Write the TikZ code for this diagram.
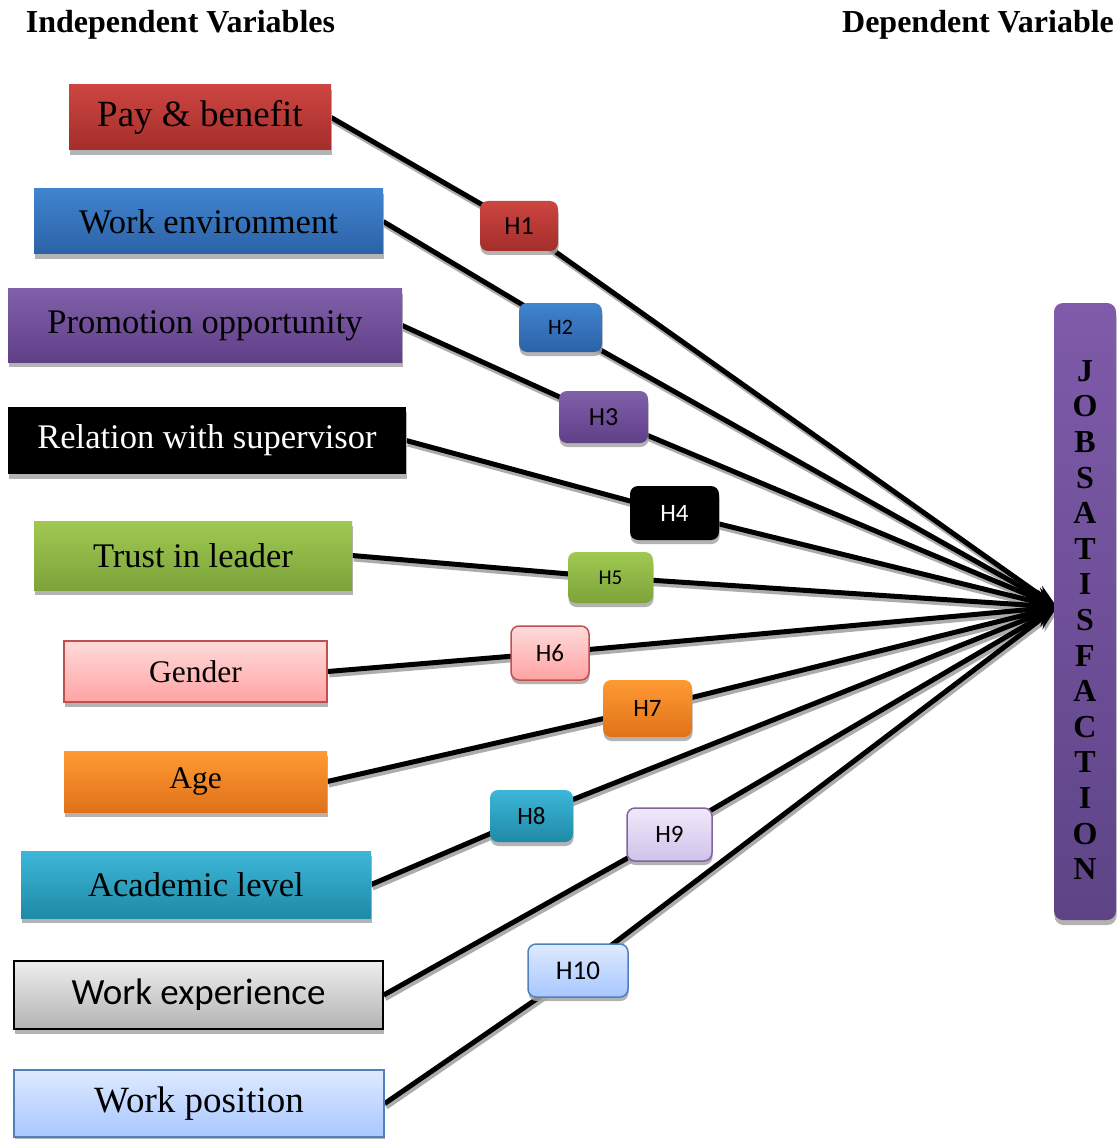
\documentclass[tikz,border=0pt]{standalone}
\usepackage{fontspec}
\setmainfont{Liberation Serif}
\newfontfamily\carlito{Carlito}
\usetikzlibrary{shadows,backgrounds,arrows.meta}
\definecolor{c1t}{HTML}{CD4541}\definecolor{c1b}{HTML}{A32E2B}
\definecolor{c2t}{HTML}{4084D0}\definecolor{c2b}{HTML}{2C62A6}
\definecolor{c3t}{HTML}{8160AA}\definecolor{c3b}{HTML}{5F3F87}
\definecolor{c5t}{HTML}{A0C952}\definecolor{c5b}{HTML}{7DA33A}
\definecolor{c6t}{HTML}{FFDADA}\definecolor{c6b}{HTML}{FFA3A3}\definecolor{c6d}{HTML}{C0504D}
\definecolor{c7t}{HTML}{FF9A33}\definecolor{c7b}{HTML}{DF7219}
\definecolor{c8t}{HTML}{3DB7D9}\definecolor{c8b}{HTML}{1E8AA6}
\definecolor{c9t}{HTML}{EEEEEE}\definecolor{c9b}{HTML}{B3B3B3}
\definecolor{c10t}{HTML}{DFEAFF}\definecolor{c10b}{HTML}{A7C7FF}\definecolor{c10d}{HTML}{4F81BD}
\definecolor{h9t}{HTML}{F0E9F9}\definecolor{h9b}{HTML}{D0C2E9}\definecolor{h9d}{HTML}{8064A2}
\definecolor{jst}{HTML}{7F5BAA}\definecolor{jsb}{HTML}{5E4487}
\begin{document}
\begin{tikzpicture}[x=1pt,y=-1pt,
  bx/.style={rectangle, inner sep=0pt, font=\fontsize{34.5}{40}\selectfont,
    drop shadow={shadow xshift=0.5pt, shadow yshift=-5pt, fill=gray!70, opacity=.85}},
  hl/.style={rectangle, rounded corners=8pt, inner sep=0pt, font=\carlito\fontsize{25}{30}\selectfont,
    drop shadow={shadow xshift=0.5pt, shadow yshift=-4pt, fill=gray!70, opacity=.85}},
  conn/.style={line width=5pt, -{Stealth[length=24pt,width=17pt]}},
  connsh/.style={line width=5pt, draw=gray!65, transform canvas={shift={(1.5pt,-3.5pt)}}, -{Stealth[length=24pt,width=17pt]}},
  head/.style={font=\bfseries\fontsize{32}{38}\selectfont, anchor=base, inner sep=0pt}
]
\useasboundingbox (0,0) rectangle (1118,1139);

\node[head] (ih) at (180.5,33) {Independent Variables};
\node[head] (dh) at (978,33) {Dependent Variable};

% independent variable boxes
\node[bx, top color=c1t, bottom color=c1b, minimum width=262pt, minimum height=65pt, font=\fontsize{37}{42}\selectfont] (b1) at (200,117.5) {Pay \& benefit};
\node[bx, top color=c2t, bottom color=c2b, minimum width=349pt, minimum height=65pt] (b2) at (208.5,221.5) {Work environment};
\node[bx, top color=c3t, bottom color=c3b, minimum width=394pt, minimum height=73pt] (b3) at (205,325.5) {Promotion opportunity};
\node[bx, fill=black, text=white, minimum width=398pt, minimum height=67pt] (b4) at (207,440.5) {Relation with supervisor};
\node[bx, top color=c5t, bottom color=c5b, minimum width=318pt, minimum height=69pt] (b5) at (193,555.5) {Trust in leader};
\node[bx, top color=c6t, bottom color=c6b, draw=c6d, line width=1.5pt, minimum width=263pt, minimum height=61pt, font=\fontsize{31.5}{36}\selectfont] (b6) at (195.5,671.5) {Gender};
\node[bx, top color=c7t, bottom color=c7b, minimum width=263pt, minimum height=61pt, font=\fontsize{31.5}{36}\selectfont] (b7) at (195.5,781.5) {Age};
\node[bx, top color=c8t, bottom color=c8b, minimum width=350pt, minimum height=67pt] (b8) at (196,884.5) {Academic level};
\node[bx, top color=c9t, bottom color=c9b, draw=black, line width=1.5pt, minimum width=369pt, minimum height=68pt, font=\carlito\fontsize{37}{42}\selectfont] (b9) at (198.5,995) {Work experience};
\node[bx, top color=c10t, bottom color=c10b, draw=c10d, line width=1.5pt, minimum width=370pt, minimum height=67pt, font=\fontsize{37}{42}\selectfont] (b10) at (199,1103.5) {Work position};

% dependent variable
\node[rectangle, rounded corners=9pt, top color=jst, bottom color=jsb, minimum width=62pt, minimum height=617pt, inner sep=0pt,
  drop shadow={shadow xshift=0.5pt, shadow yshift=-5pt, fill=gray!70, opacity=.85}] (js) at (1085,611.5) {};
\node[font=\bfseries\fontsize{32}{35.6}\selectfont, align=center, inner sep=0pt] (jstext) at (1085,620)
  {J\\O\\B\\S\\A\\T\\I\\S\\F\\A\\C\\T\\I\\O\\N};
\coordinate (T) at (1057,607);

% hypothesis labels
\node[hl, top color=c1t, bottom color=c1b, minimum width=78pt, minimum height=50pt, font=\carlito\fontsize{26}{30}\selectfont] (h1) at (519,226) {H1};
\node[hl, top color=c2t, bottom color=c2b, minimum width=83pt, minimum height=49pt, font=\carlito\fontsize{22}{26}\selectfont] (h2) at (560.5,327.5) {H2};
\node[hl, top color=c3t, bottom color=c3b, minimum width=89pt, minimum height=52pt, font=\carlito\fontsize{26}{30}\selectfont] (h3) at (603.5,417) {H3};
\node[hl, fill=black, text=white, minimum width=89pt, minimum height=54pt] (h4) at (674.5,513) {H4};
\node[hl, top color=c5t, bottom color=c5b, minimum width=85pt, minimum height=51pt, font=\carlito\fontsize{21}{25}\selectfont] (h5) at (610.5,577.5) {H5};
\node[hl, top color=c6t, bottom color=c6b, draw=c6d, line width=1.5pt, minimum width=78pt, minimum height=54pt] (h6) at (550,653) {H6};
\node[hl, top color=c7t, bottom color=c7b, minimum width=89pt, minimum height=57pt] (h7) at (647.5,708.5) {H7};
\node[hl, top color=c8t, bottom color=c8b, minimum width=83pt, minimum height=52pt] (h8) at (531.5,816) {H8};
\node[hl, top color=h9t, bottom color=h9b, draw=h9d, line width=1.5pt, minimum width=85pt, minimum height=53pt] (h9) at (669.5,834.5) {H9};
\node[hl, top color=c10t, bottom color=c10b, draw=c10d, line width=1.5pt, minimum width=100pt, minimum height=53pt, font=\carlito\fontsize{27}{31}\selectfont] (h10) at (578,970.5) {H10};

% connectors
\begin{scope}[on background layer]
\fill[white] (0,0) rectangle (1118,1139);
\foreach \b/\h in {b1/h1,b2/h2,b3/h3,b4/h4,b5/h5,b6/h6,b7/h7,b8/h8,b9/h9,b10/h10}{
  \draw[connsh] (\b.east) -- (\h.center) -- (T);
}
\foreach \b/\h in {b1/h1,b2/h2,b3/h3,b4/h4,b5/h5,b6/h6,b7/h7,b8/h8,b9/h9,b10/h10}{
  \draw[conn] (\b.east) -- (\h.center) -- (T);
}
\end{scope}
\end{tikzpicture}
\end{document}
